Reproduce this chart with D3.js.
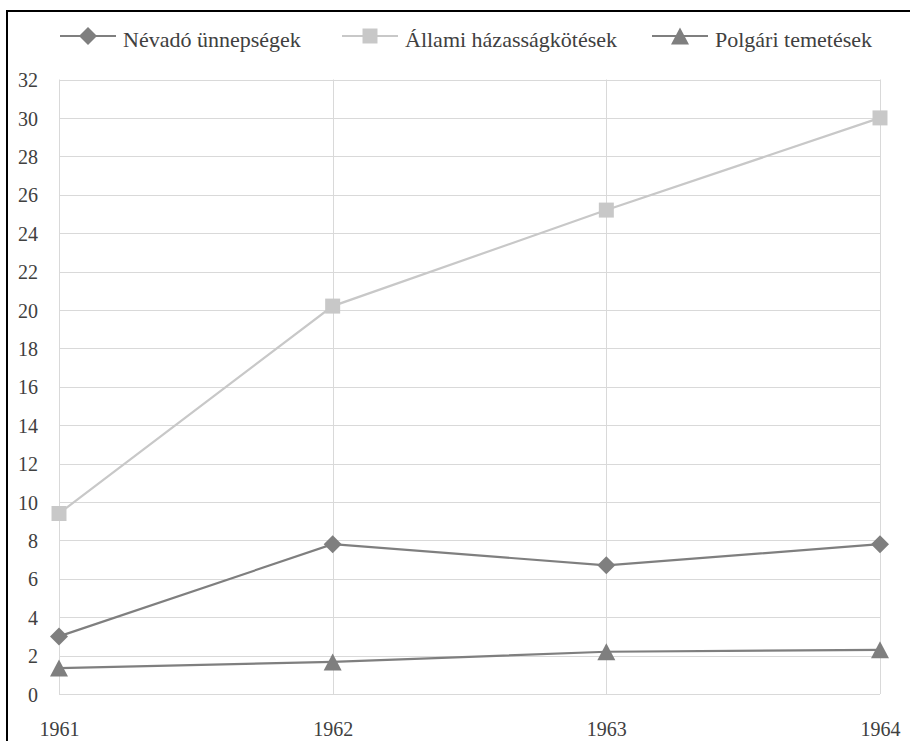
<!DOCTYPE html>
<html>
<head>
<meta charset="utf-8">
<script src="https://cdn.jsdelivr.net/npm/d3@7/dist/d3.min.js"></script>
<style>
  html, body { margin: 0; padding: 0; background: #fff; }
  svg { display: block; }
  svg text { font-family: 'Liberation Serif', 'Times New Roman', Times, 'DejaVu Serif', serif !important; fill: #404040; }
</style>
</head>
<body>
<svg id="chart" width="910" height="741"></svg>
<script>
const years = ["1961", "1962", "1963", "1964"];
const seriesNames = ["Névadó ünnepségek", "Állami házasságkötések", "Polgári temetések"];
const nevado = [3.0, 7.8, 6.7, 7.8];
const allami = [9.4, 20.2, 25.2, 30.0];
const polgari = [1.35, 1.67, 2.2, 2.3];
const yTicks = [0, 2, 4, 6, 8, 10, 12, 14, 16, 18, 20, 22, 24, 26, 28, 30, 32];

const seriesValues = [nevado, allami, polgari];
const seriesColors = ["#7f7f7f", "#c8c8c8", "#7f7f7f"];
const seriesMarkers = ["diamond", "square", "triangle"];

const FONT = "'Liberation Serif', 'Times New Roman', Times, 'DejaVu Serif', serif";

const svg = d3.select("#chart");

// frame
svg.append("path")
  .attr("d", "M7,760 L7,11 L920,11")
  .attr("fill", "none").attr("stroke", "#000").attr("stroke-width", 2);

const x = d3.scalePoint().domain(years).range([59, 880]);
const y = d3.scaleLinear().domain([0, 32]).range([694, 79.5]);

// horizontal gridlines
svg.append("g").selectAll("line").data(yTicks).join("line")
  .attr("x1", 59).attr("x2", 880)
  .attr("y1", d => Math.round(y(d)) + 0.5).attr("y2", d => Math.round(y(d)) + 0.5)
  .attr("stroke", "#d9d9d9").attr("stroke-width", 1);

// vertical gridlines
svg.append("g").selectAll("line").data(years).join("line")
  .attr("x1", d => Math.round(x(d)) + 0.5).attr("x2", d => Math.round(x(d)) + 0.5)
  .attr("y1", y(32)).attr("y2", y(0))
  .attr("stroke", "#d9d9d9").attr("stroke-width", 1);

// y axis
const yAxis = d3.axisLeft(y).tickValues(yTicks).tickSize(0).tickPadding(0);
const gy = svg.append("g").attr("transform", "translate(38,0)").call(yAxis)
  .attr("font-family", FONT);
gy.select(".domain").remove();
gy.selectAll("text")
  .style("font-family", FONT)
  .attr("font-size", 20).attr("fill", "#404040").attr("dy", "0.36em");

// x axis
const xAxis = d3.axisBottom(x).tickSize(0).tickPadding(0);
const gx = svg.append("g").attr("transform", "translate(0,736)").call(xAxis)
  .attr("font-family", FONT);
gx.select(".domain").remove();
gx.selectAll("text")
  .style("font-family", FONT)
  .attr("font-size", 20).attr("fill", "#404040").attr("dy", 0).attr("y", 0);

function markerPath(type) {
  if (type === "diamond") return "M0,-9 L9,0 L0,9 L-9,0 Z";
  if (type === "square") return "M-7.5,-7.5 L7.5,-7.5 L7.5,7.5 L-7.5,7.5 Z";
  return "M0,-8.5 L9,8.5 L-9,8.5 Z";
}

const line = d3.line().x((d, i) => x(years[i])).y(d => y(d));

seriesValues.forEach((vals, s) => {
  const g = svg.append("g");
  g.append("path").datum(vals)
    .attr("d", line).attr("fill", "none")
    .attr("stroke", seriesColors[s]).attr("stroke-width", 2.2);
  g.selectAll("path.m").data(vals).join("path").attr("class", "m")
    .attr("d", markerPath(seriesMarkers[s]))
    .attr("transform", (d, i) => `translate(${x(years[i])},${y(d)})`)
    .attr("fill", seriesColors[s]);
});

// legend
const legendX = [60, 342, 652];
const legendY = 36;
const leg = svg.append("g");
seriesNames.forEach((name, s) => {
  const g = leg.append("g").attr("transform", `translate(${legendX[s]},${legendY})`);
  g.append("line").attr("x1", 0).attr("x2", 56).attr("y1", 0).attr("y2", 0)
    .attr("stroke", seriesColors[s]).attr("stroke-width", 2.2);
  g.append("path").attr("d", markerPath(seriesMarkers[s]))
    .attr("transform", "translate(28,0)").attr("fill", seriesColors[s]);
  g.append("text").attr("x", 63).attr("y", 11)
    .style("font-family", FONT)
    .attr("font-size", 22).attr("fill", "#404040").text(name);
});
</script>
</body>
</html>
